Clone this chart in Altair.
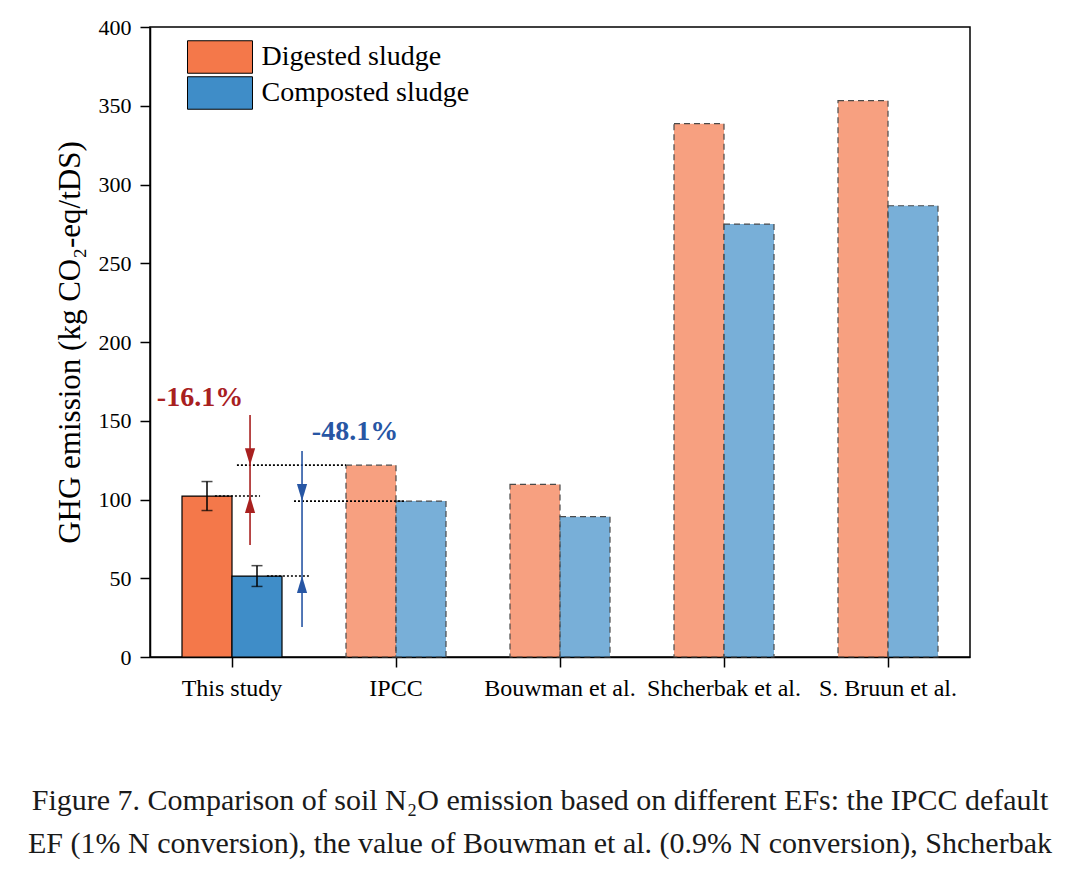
import altair as alt
import pandas as pd

# ---------------- data ----------------
studies = ["This study", "IPCC", "Bouwman et al.", "Shcherbak et al.", "S. Bruun et al."]
types = ["Digested sludge", "Composted sludge"]
digested = [102.2, 121.8, 109.6, 338.6, 353.2]
composted = [51.4, 99.0, 89.1, 274.9, 286.5]
err_this_study = [9.2, 6.6]          # +/- error for digested, composted (This study)
colors = ["#F4784A", "#3F8DC8"]

# annotation geometry (x in category units on a 0-5 axis, y in data units)
dot_y = [102.2, 121.8, 99.0, 51.4]
dot_x1 = [0.396, 0.53, 0.878, 0.713]
dot_x2 = [0.671, 1.195, 1.555, 0.976]
arrow_x = [0.61, 0.927]
arrow_lo = [71.1, 19.0]
arrow_hi = [153.7, 130.8]
arrow_col = ["#A8201F", "#2756A4"]
head_x = [0.61, 0.61, 0.927, 0.927]
head_y = [121.8, 102.2, 99.0, 51.4]
head_dir = ["down", "up", "down", "up"]
head_col = ["#A8201F", "#A8201F", "#2756A4", "#2756A4"]
label_text = ["-16.1%", "-48.1%"]
label_x = [0.305, 1.25]
label_y = [164.4, 142.9]
label_col = ["#A8201F", "#2756A4"]

caption = [
    "Figure 7. Comparison of soil N\u2082O emission based on different EFs: the IPCC default",
    "EF (1% N conversion), the value of Bouwman et al. (0.9% N conversion), Shcherbak",
]

# ---------------- tables ----------------
rows = []
for i, s in enumerate(studies):
    rows.append({"study": s, "type": types[0], "value": digested[i]})
    rows.append({"study": s, "type": types[1], "value": composted[i]})
bars = pd.DataFrame(rows)
main_bars = bars[bars.study == studies[0]]
ref_bars = bars[bars.study != studies[0]]

err = pd.DataFrame({
    "study": [studies[0]] * 2,
    "type": types,
    "lo": [digested[0] - err_this_study[0], composted[0] - err_this_study[1]],
    "hi": [digested[0] + err_this_study[0], composted[0] + err_this_study[1]],
})

dots = pd.DataFrame({"y": dot_y, "x1": dot_x1, "x2": dot_x2})
arrows = pd.DataFrame({"x": arrow_x, "lo": arrow_lo, "hi": arrow_hi, "c": arrow_col})
DOWN = "M-0.6,-2L0.6,-2L0,0Z"
UP = "M-0.6,2L0.6,2L0,0Z"
heads = pd.DataFrame({"x": head_x, "y": head_y,
                      "shape": [DOWN if d == "down" else UP for d in head_dir],
                      "c": head_col})
labels = pd.DataFrame({"x": label_x, "y": label_y, "t": label_text, "c": label_col})

FONT = "Liberation Serif"

# ---------------- encodings ----------------
x_nom = alt.X("study:N", sort=studies,
              scale=alt.Scale(domain=studies, paddingInner=0, paddingOuter=0),
              axis=alt.Axis(title=None, labelAngle=0, labelFontSize=24, labelFont=FONT,
                            tickSize=10, labelPadding=9, tickBand="center",
                            labelColor="black"))
x_off = alt.XOffset("type:N", sort=types,
                    scale=alt.Scale(domain=types, paddingInner=0, paddingOuter=0.64))
y_enc = alt.Y("value:Q", scale=alt.Scale(domain=[0, 400], nice=False),
              axis=alt.Axis(title="GHG emission (kg CO\u2082-eq/tDS)",
                            titleFont=FONT, titleFontSize=31, titleFontWeight="normal",
                            titleColor="black", titlePadding=12,
                            values=list(range(0, 401, 25)),
                            labelExpr="datum.value % 50 === 0 ? datum.label : ''",
                            tickSize={"condition": {"test": "datum.value % 50 === 0", "value": 10},
                                      "value": 6},
                            labelFontSize=22, labelFont=FONT, labelPadding=9,
                            labelColor="black"))
color_enc = alt.Color("type:N", sort=types,
                      scale=alt.Scale(domain=types, range=colors),
                      legend=alt.Legend(title=None, orient="none", legendX=53, legendY=13,
                                        symbolType="M-2,-1H2V1H-2Z", symbolSize=1056,
                                        symbolStrokeColor="black", symbolStrokeWidth=1,
                                        symbolOpacity=1, labelLimit=0,
                                        labelFontSize=28, labelFont=FONT, labelColor="black",
                                        labelOffset=24.5, rowPadding=-4, padding=0))

main_layer = alt.Chart(main_bars).mark_bar(stroke="black", strokeWidth=1.2).encode(
    x=x_nom, xOffset=x_off, y=y_enc, color=color_enc)
ref_layer = alt.Chart(ref_bars).mark_bar(stroke="#4a4a4a", strokeWidth=1.2,
                                         strokeDash=[6, 4], fillOpacity=0.7).encode(
    x=x_nom, xOffset=x_off, y="value:Q", color=color_enc)
err_rule = alt.Chart(err).mark_rule(color="black", strokeWidth=1.5).encode(
    x=x_nom, xOffset=x_off, y="lo:Q", y2="hi:Q")
cap_lo = alt.Chart(err).mark_tick(color="black", thickness=1.5, size=11).encode(
    x=x_nom, xOffset=x_off, y="lo:Q")
cap_hi = alt.Chart(err).mark_tick(color="black", thickness=1.5, size=11).encode(
    x=x_nom, xOffset=x_off, y="hi:Q")

bar_group = alt.layer(main_layer, ref_layer, err_rule, cap_lo, cap_hi)

x_q_scale = alt.Scale(domain=[0, 5], nice=False, zero=False)
dot_layer = alt.Chart(dots).mark_rule(color="black", strokeWidth=1.6, strokeDash=[2, 2]).encode(
    x=alt.X("x1:Q", scale=x_q_scale,
            axis=alt.Axis(values=[0, 1, 2, 3, 4, 5], labels=False, domain=False, title=None,
                          tickSize=6, grid=False, orient="bottom")),
    x2="x2:Q", y="y:Q")
arrow_layer = alt.Chart(arrows).mark_rule(strokeWidth=1.6).encode(
    x=alt.X("x:Q", scale=x_q_scale, axis=None), y="lo:Q", y2="hi:Q",
    stroke=alt.Stroke("c:N", scale=None))
head_layer = alt.Chart(heads).mark_point(filled=True, size=289, opacity=1, strokeWidth=0).encode(
    x=alt.X("x:Q", scale=x_q_scale, axis=None), y="y:Q",
    shape=alt.Shape("shape:N", scale=None), fill=alt.Fill("c:N", scale=None))
label_layer = alt.Chart(labels).mark_text(font=FONT, fontSize=28, fontWeight="bold").encode(
    x=alt.X("x:Q", scale=x_q_scale, axis=None), y="y:Q", text="t:N",
    fill=alt.Fill("c:N", scale=None))

annot_group = alt.layer(dot_layer, arrow_layer, head_layer, label_layer)

chart = alt.layer(bar_group, annot_group).resolve_scale(x="independent").properties(
    width=820, height=630,
    autosize=alt.AutoSizeParams(type="none"),
    padding={"left": 142, "top": 19, "right": 102, "bottom": 214},
    title=alt.TitleParams(text=caption, orient="bottom", anchor="middle", dx=-20,
                          offset=86, fontSize=30, font=FONT, fontWeight="normal",
                          color="#1a1a1a", lineHeight=43, baseline="top"),
).configure_axis(
    domainColor="black", domainWidth=1.5, tickColor="black", tickWidth=1.5, grid=False
).configure_view(stroke="black", strokeWidth=1.5)

chart.save("out.html", embed_options={"renderer": "svg", "actions": False})
